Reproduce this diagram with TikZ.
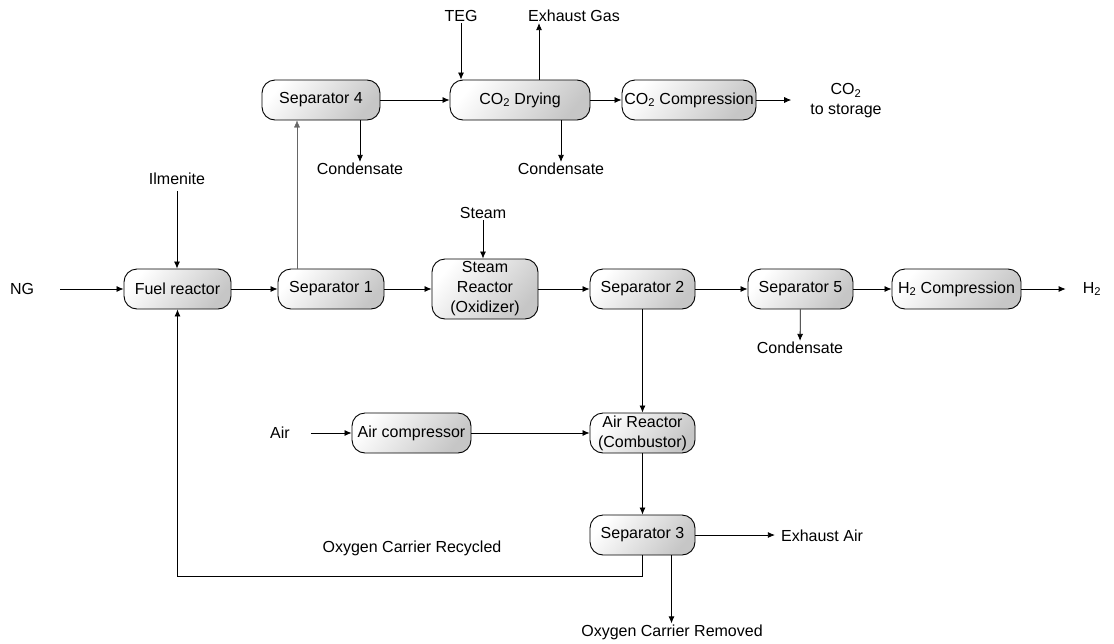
\documentclass[tikz,border=0pt]{standalone}
\usepackage{fontspec}
\setmainfont{Liberation Sans}
\usetikzlibrary{arrows.meta}
\tikzset{
  >={Latex[length=7pt,width=6pt]},
  unit/.style = {draw, line width=0.9pt, rounded corners=13pt,
                 top color=white, middle color=gray!10, bottom color=gray!45,
                 shading angle=50,
                 minimum height=40pt, inner sep=1pt, align=center},
  stream/.style = {inner sep=1pt, align=center},
  flow/.style = {->, line width=0.8pt},
  thinflow/.style = {->, line width=0.4pt, draw=black!60},
}
\begin{document}
\begin{tikzpicture}[x=1pt, y=-1pt, font=\fontsize{16}{20}\selectfont]
\useasboundingbox (0,0) rectangle (1114,643);
\node[unit, minimum width=107pt] (fuel) at (177.5,289) {Fuel reactor};
\node[unit, minimum width=106pt] (sep1) at (331,289) {Separator 1};
\node[unit, minimum width=106pt, minimum height=60pt] (steam) at (485,289) {Steam\\Reactor\\(Oxidizer)};
\node[unit, minimum width=105pt] (sep2) at (642.5,289) {Separator 2};
\node[unit, minimum width=105pt] (sep5) at (800.5,289) {Separator 5};
\node[unit, minimum width=129pt] (h2c) at (956.5,289) {H\textsubscript{2} Compression};
\node[unit, minimum width=118pt] (sep4) at (321,100) {Separator 4};
\node[unit, minimum width=140pt] (dry) at (520,100) {CO\textsubscript{2} Drying};
\node[unit, minimum width=134pt] (co2c) at (689,100) {CO\textsubscript{2} Compression};
\node[unit, minimum width=119pt] (aircomp) at (411.5,433) {Air compressor};
\node[unit, minimum width=105pt] (airr) at (642.5,433) {Air Reactor\\(Combustor)};
\node[unit, minimum width=105pt] (sep3) at (642.5,535) {Separator 3};
\node[stream] (ng) at (22,289) {NG};
\node[stream] (ilm) at (177,179) {Ilmenite};
\node[stream] (stin) at (483,213) {Steam};
\node[stream] (teg) at (461,16) {TEG};
\node[stream] (exg) at (574,16) {Exhaust Gas};
\node[stream] (store) at (846,101) {CO\textsubscript{2}\\to storage};
\node[stream] (h2) at (1092,289) {H\textsubscript{2}};
\node[stream] (cond4) at (360,169) {Condensate};
\node[stream] (cond2) at (561,169) {Condensate};
\node[stream] (cond5) at (800,348) {Condensate};
\node[stream] (air) at (280,433) {Air};
\node[stream] (exair) at (822,536) {Exhaust Air};
\node[stream] (recyc) at (412,548) {Oxygen Carrier Recycled};
\node[stream] (rem) at (672,632) {Oxygen Carrier Removed};
% main line
\draw[flow] ([xshift=25pt]ng.east) -- (fuel);
\draw[flow] ([yshift=-5pt]ilm.south) -- (ilm |- fuel.north);
\draw[flow] (fuel) -- (sep1);
\draw[flow] (sep1) -- (steam);
\draw[flow] (steam) -- (sep2);
\draw[flow] (sep2) -- (sep5);
\draw[flow] (sep5) -- (h2c);
\draw[flow, shorten >=16pt] (h2c) -- (h2);
\draw[flow] (stin) -- (stin |- steam.north);
\draw[flow] (sep5) -- (cond5);
% CO2 line
\draw[thinflow] ([xshift=-34pt]sep1.north) -- ([xshift=-34pt]sep1.north |- sep4.south);
\draw[flow] (sep4) -- (dry);
\draw[flow] (dry) -- (co2c);
\draw[flow, shorten >=18pt] (co2c) -- (co2c -| store.west);
\draw[flow] (teg) -- (teg |- dry.north);
\draw[flow] ([xshift=19pt]dry.north) -- ([xshift=19pt]dry.north |- exg.south);
\draw[flow] (cond4.north |- sep4.south) -- (cond4);
\draw[flow] (cond2.north |- dry.south) -- (cond2);
% air side
\draw[flow] (sep2) -- (airr);
\draw[flow] ([xshift=20pt]air.east) -- (aircomp);
\draw[flow] (aircomp) -- (airr);
\draw[flow] (airr) -- (sep3);
\draw[flow, shorten >=5pt] (sep3) -- (sep3 -| exair.west);
\draw[flow] ([xshift=29pt]sep3.south) -- ([xshift=29pt]sep3.south |- rem.north);
\draw[flow] (sep3.south) -- ++(0,21) -| (fuel.south);
\end{tikzpicture}
\end{document}
